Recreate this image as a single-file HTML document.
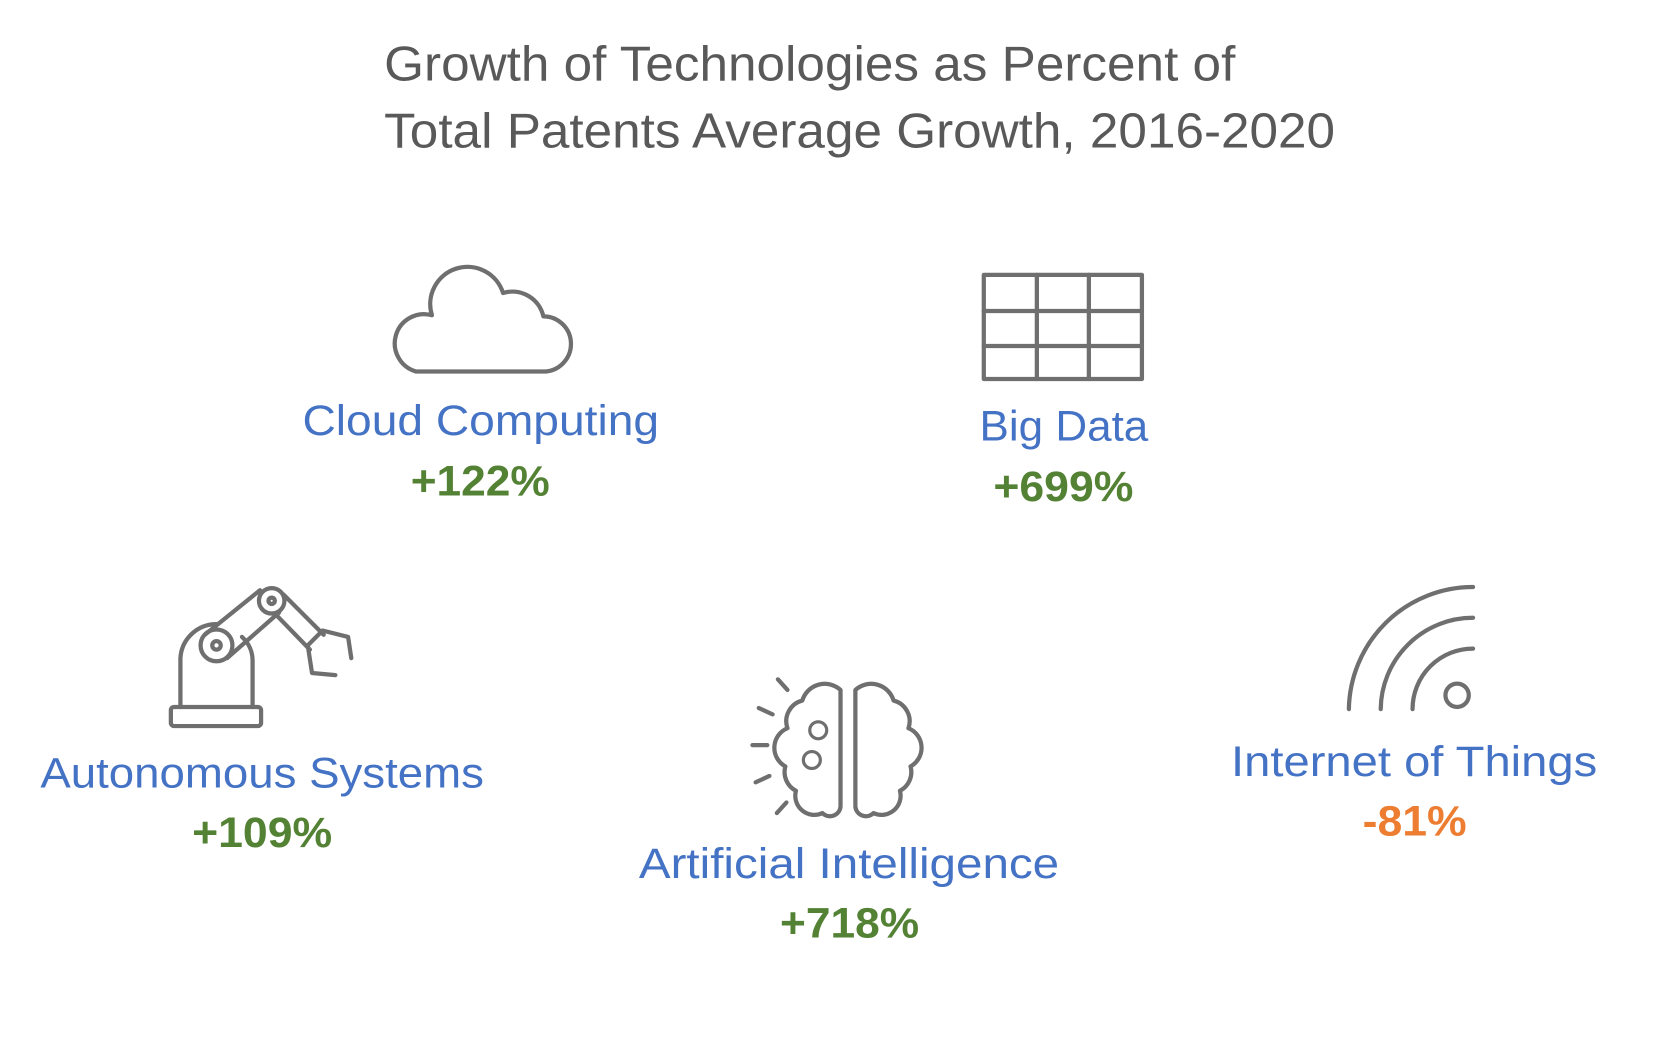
<!DOCTYPE html>
<html><head><meta charset="utf-8"><style>
html,body{margin:0;padding:0;background:#fff;}
svg{display:block;}
text{font-family:"Liberation Sans",sans-serif;}
</style></head><body>
<svg width="1663" height="1053" viewBox="0 0 1567 992" preserveAspectRatio="none" xmlns="http://www.w3.org/2000/svg">
<g fill="#595959" font-size="46">
<text x="362" y="76" textLength="802" lengthAdjust="spacingAndGlyphs">Growth of Technologies as Percent of</text>
<text x="362" y="139" textLength="896" lengthAdjust="spacingAndGlyphs">Total Patents Average Growth, 2016-2020</text>
</g>
<g fill="#4472C4" font-size="40">
<text x="285" y="410" textLength="336" lengthAdjust="spacingAndGlyphs">Cloud Computing</text>
<text x="923" y="415" textLength="159" lengthAdjust="spacingAndGlyphs">Big Data</text>
<text x="38" y="742" textLength="418" lengthAdjust="spacingAndGlyphs">Autonomous Systems</text>
<text x="602" y="827" textLength="396" lengthAdjust="spacingAndGlyphs">Artificial Intelligence</text>
<text x="1160" y="731" textLength="345" lengthAdjust="spacingAndGlyphs">Internet of Things</text>
</g>
<g fill="#548235" font-size="40" font-weight="bold">
<text x="387" y="467" textLength="131" lengthAdjust="spacingAndGlyphs">+122%</text>
<text x="936" y="472" textLength="132" lengthAdjust="spacingAndGlyphs">+699%</text>
<text x="181" y="798" textLength="132" lengthAdjust="spacingAndGlyphs">+109%</text>
<text x="735" y="883" textLength="131" lengthAdjust="spacingAndGlyphs">+718%</text>
</g>
<text x="1284" y="787" fill="#ED7D31" font-size="40" font-weight="bold" textLength="98" lengthAdjust="spacingAndGlyphs">-81%</text>

<g fill="none" stroke="#6f6f6f" stroke-width="4" stroke-linejoin="round" stroke-linecap="round">
<path d="M392 350 H512 A26 26 0 0 0 512 298 A30 30 0 0 0 474 276 A35 35 0 0 0 407 297 A27 27 0 0 0 392 350 Z"/>
<rect x="927" y="259" width="149" height="98"/>
<path d="M977 259V357M1026 259V357M927 293H1076M927 326H1076"/>
<rect x="161" y="666" width="85" height="18" rx="3"/>
<path d="M170 666 V620 A34 34 0 0 1 204 588 M238 666 V622 A30 30 0 0 0 228 600"/>
<circle cx="204" cy="608" r="15"/><circle cx="204" cy="608" r="4"/>
<circle cx="256" cy="566" r="12"/><circle cx="256" cy="566" r="3"/>
<path d="M193 598 L245 556 M214 620 L263 577 M267 560 L305 598 M259 578 L292 612"/>
<path d="M290 608 L304 594 L328 600 L331 620 M290 608 L294 634 L316 636"/>
<path d="M792 650 V760 A10 10 0 0 1 775 766 A18 18 0 0 1 750 745 A20 20 0 0 1 740 722 A20 20 0 0 1 742 686 A20 20 0 0 1 756 660 A22 22 0 0 1 792 650 Z"/>
<path d="M806 650 V760 A10 10 0 0 0 823 766 A18 18 0 0 0 848 745 A20 20 0 0 0 858 722 A20 20 0 0 0 856 686 A20 20 0 0 0 842 660 A22 22 0 0 0 806 650 Z"/>
<circle cx="771" cy="688" r="8" stroke-width="3"/><circle cx="765" cy="716" r="8" stroke-width="3"/>
<path d="M733 640 L742 650 M715 667 L728 673 M709 702 H723 M712 737 L725 731 M732 766 L741 756"/>
<circle cx="1373" cy="655" r="11"/>
<path d="M1331 668 A57 57 0 0 1 1388 611 M1301 668 A87 87 0 0 1 1388 582 M1271 668 A117 117 0 0 1 1388 553"/>
</g>
</svg>
</body></html>
